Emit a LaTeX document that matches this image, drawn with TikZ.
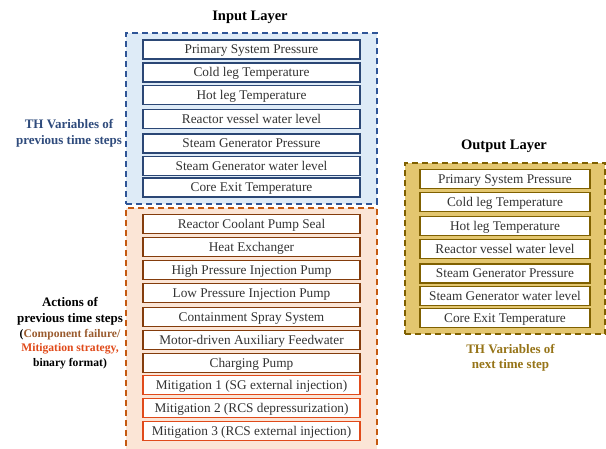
\documentclass[tikz,border=0pt]{standalone}
\usepackage{fontspec}
\setmainfont{Liberation Serif}
\usetikzlibrary{fit,backgrounds}
\definecolor{inlayerink}{HTML}{2F5597}
\definecolor{inlayerfill}{HTML}{DEEBF7}
\definecolor{varink}{HTML}{2B4775}
\definecolor{actlayerink}{HTML}{C55A11}
\definecolor{actlayerfill}{HTML}{FBE5D6}
\definecolor{actink}{HTML}{843C0C}
\definecolor{mitink}{HTML}{E04A1A}
\definecolor{failink}{HTML}{9A5B2E}
\definecolor{outlayerink}{HTML}{7F6000}
\definecolor{outlayerfill}{HTML}{E3C66F}
\definecolor{outlblink}{HTML}{967418}
\definecolor{thlblink}{HTML}{2F4B7C}

\begin{document}
\begin{tikzpicture}[x=1pt,y=-1pt,
  var/.style={draw=varink, line width=1.6pt, rectangle, fill=white, inner sep=0pt, minimum width=217pt, minimum height=19pt, text height=8.6pt, text depth=0pt, text=black!80, font=\fontsize{13.3}{15}\selectfont},
  act/.style={var, draw=actink},
  mit/.style={var, draw=mitink},
  outvar/.style={var, draw=outlayerink, minimum width=170pt},
  layer/.style={rectangle, line width=1.8pt, dash pattern=on 6pt off 4pt, inner xsep=16pt, inner ysep=6pt},
  title/.style={font=\fontsize{14.5}{17}\selectfont\bfseries},
  side/.style={align=center, font=\fontsize{13}{15.5}\selectfont\bfseries}]
\useasboundingbox (0,0) rectangle (606,448);
\clip (0,0) rectangle (606,448);
\node[title] (intitle) at (250,17) {Input Layer};
\node[var] (i1) at (251.5,49.5)  {Primary System Pressure};
\node[var] (i2) at (251.5,72.5)  {Cold leg Temperature};
\node[var] (i3) at (251.5,95)    {Hot leg Temperature};
\node[var] (i4) at (251.5,119)   {Reactor vessel water level};
\node[var] (i5) at (251.5,143.5) {Steam Generator Pressure};
\node[var] (i6) at (251.5,166)   {Steam Generator water level};
\node[var] (i7) at (251.5,187.5) {Core Exit Temperature};
\node[act] (a1) at (251.5,224) {Reactor Coolant Pump Seal};
\node[act] (a2) at (251.5,247) {Heat Exchanger};
\node[act] (a3) at (251.5,270) {High Pressure Injection Pump};
\node[act] (a4) at (251.5,293) {Low Pressure Injection Pump};
\node[act] (a5) at (251.5,317) {Containment Spray System};
\node[act] (a6) at (251.5,340) {Motor-driven Auxiliary Feedwater};
\node[act] (a7) at (251.5,363) {Charging Pump};
\node[mit] (a8) at (251.5,385) {Mitigation 1 (SG external injection)};
\node[mit] (a9) at (251.5,408) {Mitigation 2 (RCS depressurization)};
\node[mit] (a10) at (251.5,431) {Mitigation 3 (RCS external injection)};
\coordinate (abot) at (251.5,448);
\node[title] (outtitle) at (504,146) {Output Layer};
\node[outvar] (o1) at (505,179)   {Primary System Pressure};
\node[outvar] (o2) at (505,202)   {Cold leg Temperature};
\node[outvar] (o3) at (505,226)   {Hot leg Temperature};
\node[outvar] (o4) at (505,249)   {Reactor vessel water level};
\node[outvar] (o5) at (505,273.5) {Steam Generator Pressure};
\node[outvar] (o6) at (505,296)   {Steam Generator water level};
\node[outvar] (o7) at (505,318)   {Core Exit Temperature};
\begin{scope}[on background layer]
\node[layer, draw=inlayerink, fill=inlayerfill, fit=(i1)(i7)] (inlayer) {};
\node[layer, draw=actlayerink, fill=actlayerfill, fit=(a1)(a10)(abot)] (actlayer) {};
\node[layer, draw=outlayerink, fill=outlayerfill, inner xsep=14.5pt, fit=(o1)(o7)] (outlayer) {};
\end{scope}
\node[side, text=thlblink] (thprev) at (69,133.5) {TH Variables of\\previous time steps};
\node[side] (actlbl) at (70,311.5) {Actions of\\previous time steps};
\node[side, font=\fontsize{11.6}{14.5}\selectfont\bfseries] (actsub) at (70,349) {(\textcolor{failink}{Component failure/}\\\textcolor{mitink}{Mitigation strategy,}\\binary format)};
\node[side, text=outlblink] (thnext) at (510.5,358) {TH Variables of\\next time step};
\end{tikzpicture}
\end{document}
